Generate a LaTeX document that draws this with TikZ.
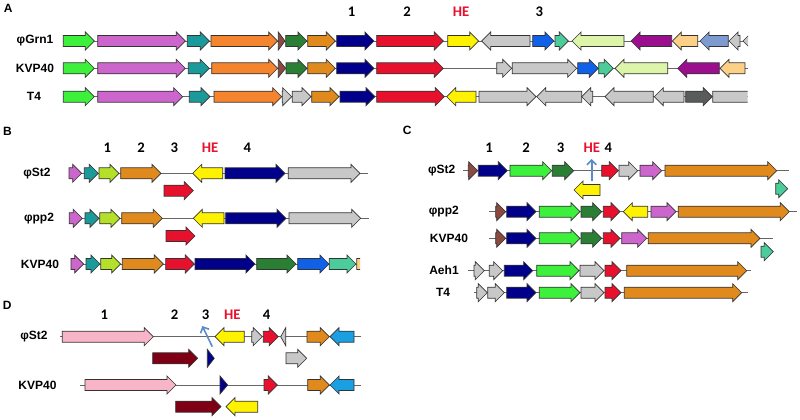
\documentclass[tikz,border=0pt]{standalone}
\usepackage{fontspec}
\setmainfont{Liberation Sans}
\newfontfamily\numfont{Carlito}
\usetikzlibrary{arrows.meta}

\definecolor{gLime}{HTML}{3CF03C}
\definecolor{gOrchid}{HTML}{CC66CC}
\definecolor{gTeal}{HTML}{1A9A9A}
\definecolor{gOrange}{HTML}{F5842E}
\definecolor{gAmber}{HTML}{E08A1E}
\definecolor{gBrown}{HTML}{8B4A40}
\definecolor{gForest}{HTML}{2A7F35}
\definecolor{gNavy}{HTML}{00008B}
\definecolor{gRed}{HTML}{E8112D}
\definecolor{gYellow}{HTML}{FFF200}
\definecolor{gGrey}{HTML}{C8C8C8}
\definecolor{gDark}{HTML}{5A5C5C}
\definecolor{gBlue}{HTML}{1060E8}
\definecolor{gAqua}{HTML}{4CCC9A}
\definecolor{gPale}{HTML}{DDF5A8}
\definecolor{gPlum}{HTML}{9B0F8F}
\definecolor{gPeach}{HTML}{FCD087}
\definecolor{gSteel}{HTML}{7E9BD0}
\definecolor{gChart}{HTML}{B5E02A}
\definecolor{gPink}{HTML}{F9B5C8}
\definecolor{gMaroon}{HTML}{7F0015}
\definecolor{gSky}{HTML}{1A9FE0}
\definecolor{gPointer}{HTML}{5B8BC8}
\definecolor{hered}{HTML}{E8112D}

\tikzset{
  gene/.style={draw=black!80,line width=0.5pt,line join=miter},
  spine/.style={draw=black!60,line width=0.6pt},
  strain/.style={font=\bfseries\fontsize{9}{11}\selectfont},
  gnum/.style={font=\numfont\bfseries\fontsize{11}{13}\selectfont},
  panel/.style={font=\bfseries\fontsize{9}{11}\selectfont},
  pointer/.style={-{Straight Barb[length=3.5pt,width=7pt]},draw=gPointer,line width=1.2pt}
}

% forward and reverse gene arrows: start, end, row, colour
\newcommand{\genefw}[4]{\pgfmathsetmacro{\hx}{max(#1,#2-9)}%
  \filldraw[gene,fill=#4] (#1,#3-5.5) -- (\hx,#3-5.5) -- (\hx,#3-9) -- (#2,#3)
    -- (\hx,#3+9) -- (\hx,#3+5.5) -- (#1,#3+5.5) -- cycle;}
\newcommand{\generv}[4]{\pgfmathsetmacro{\hx}{min(#2,#1+9)}%
  \filldraw[gene,fill=#4] (#2,#3-5.5) -- (\hx,#3-5.5) -- (\hx,#3-9) -- (#1,#3)
    -- (\hx,#3+9) -- (\hx,#3+5.5) -- (#2,#3+5.5) -- cycle;}

\begin{document}
\begin{tikzpicture}[x=0.75pt,y=-0.75pt]
  \useasboundingbox (0,0) rectangle (800,420);

  % ---- A ----
  \node[panel] (pA) at (8.3,8.7) {A};
  \node[strain] (aGrn) at (35,41) {φGrn1};
  \node[strain] (aKVP) at (35,68.3) {KVP40};
  \node[strain] (aT4) at (34,96.7) {T4};
  \node[gnum] (a1) at (351.7,12) {1};
  \node[gnum] (a2) at (407,12) {2};
  \node[gnum,text=hered] (aHE) at (461,12) {HE};
  \node[gnum] (a3) at (539.3,12) {3};

  \draw[spine] (63,41) -- (748,41);
  \foreach \s/\e/\col in {63.3/94.3/gLime,97.7/185.3/gOrchid,187.3/209.3/gTeal,211/277.7/gOrange,
      278.3/285/gBrown,285.7/307/gForest,307.7/335.3/gAmber,336.7/374/gNavy,376.7/443.3/gRed,
      447.7/478.7/gYellow,532.7/554/gBlue,555/568.3/gAqua}
    \genefw{\s}{\e}{41}{\col};
  \foreach \s/\e/\col in {481.7/530/gGrey,572/624/gPale,631/671.7/gPlum,672.3/697.7/gPeach,
      700/728.3/gSteel,729/740/gGrey}
    \generv{\s}{\e}{41}{\col};
  \begin{scope}
    \clip (740,30) rectangle (748,52);
    \generv{743}{752}{41}{gGrey};
  \end{scope}

  \draw[spine] (63,68.3) -- (748,68.3);
  \foreach \s/\e/\col in {63.3/94.3/gLime,97.7/185.3/gOrchid,188.3/209.3/gTeal,211.7/277.7/gOrange,
      278.3/285.7/gBrown,286/307/gForest,307.7/335.3/gAmber,336.7/374/gNavy,376.7/443.3/gRed,
      496.7/511.7/gGrey,512.3/576.7/gGrey,577.7/598.3/gBlue,598.7/613.3/gAqua}
    \genefw{\s}{\e}{68.3}{\col};
  \foreach \s/\e/\col in {615/667.7/gPale,677.7/719.3/gPlum,720/745/gPeach}
    \generv{\s}{\e}{68.3}{\col};

  \draw[spine] (63,96.7) -- (747.7,96.7);
  \foreach \s/\e/\col in {63.3/94.3/gLime,97.7/182.7/gOrchid,189.3/210/gTeal,214/281.7/gOrange,
      282.3/291.7/gGrey,292.3/311/gGrey,311.7/339/gAmber,340/375/gNavy,376.7/444.3/gRed,
      479/536/gGrey,685.7/712.3/gDark}
    \genefw{\s}{\e}{96.7}{\col};
  \foreach \s/\e/\col in {446.7/476/gYellow,536.7/581.7/gGrey,581.7/592.7/gGrey,605/653.3/gGrey,
      654.3/684/gGrey}
    \generv{\s}{\e}{96.7}{\col};
  \begin{scope}
    \clip (710,85) rectangle (747.7,108);
    \genefw{712.7}{770}{96.7}{gGrey};
  \end{scope}

  % ---- B ----
  \node[panel] (pB) at (7.5,131.7) {B};
  \foreach \t/\x/\n in {1/107.3/b1,2/141/b2,3/174.3/b3,4/247.3/b4}
    \node[gnum] (\n) at (\x,147.7) {\t};
  \node[gnum,text=hered] (bHE) at (210,147.7) {HE};
  \node[strain] (bSt2) at (37,173.3) {φSt2};
  \node[strain] (bpp2) at (39,218.3) {φpp2};
  \node[strain] (bKVP) at (40,264) {KVP40};

  \draw[spine] (69,173.3) -- (368.3,173.3);
  \foreach \s/\e/\col in {69/81.7/gOrchid,84.3/98.3/gTeal,99/119/gChart,120.7/161/gAmber,
      225/285/gNavy,288.3/360/gGrey}
    \genefw{\s}{\e}{173.3}{\col};
  \generv{192.7}{222.7}{173.3}{gYellow};
  \genefw{164}{193.3}{190.7}{gRed};

  \draw[spine] (69,218.3) -- (369.3,218.3);
  \foreach \s/\e/\col in {69.3/82.3/gOrchid,85/99/gTeal,99.7/120/gChart,121.7/162.3/gAmber,
      225.7/286/gNavy,289/360.7/gGrey}
    \genefw{\s}{\e}{218.3}{\col};
  \generv{193.3}{224}{218.3}{gYellow};
  \genefw{166}{195}{236}{gRed};

  \draw[spine] (71,264) -- (360,264);
  \foreach \s/\e/\col in {71/83.7/gOrchid,86/100/gTeal,100.7/120.7/gChart,122.3/163.3/gAmber,
      165.7/194.3/gRed,195/255/gNavy,256.7/296/gForest,297.7/329/gBlue,329.3/356/gAqua}
    \genefw{\s}{\e}{264}{\col};
  \begin{scope}
    \clip (356,250) rectangle (360,278);
    \genefw{356.7}{380}{264}{gPeach};
  \end{scope}

  % ---- C ----
  \node[panel] (pC) at (407.3,130) {C};
  \foreach \t/\x/\n in {1/489/c1,2/526/c2,3/560.7/c3,4/608.3/c4}
    \node[gnum] (\n) at (\x,147.7) {\t};
  \node[gnum,text=hered] (cHE) at (591.7,147.7) {HE};
  \node[strain] (cSt2) at (441.7,170.7) {φSt2};
  \node[strain] (cpp2) at (443.8,211.7) {φpp2};
  \node[strain] (cKVP) at (449,238.3) {KVP40};
  \node[strain] (cAeh) at (444,270.7) {Aeh1};
  \node[strain] (cT4) at (443,292.7) {T4};

  \draw[spine] (463.3,170.7) -- (789,170.7);
  \foreach \s/\e/\col in {468.3/477.7/gBrown,478.3/507.3/gNavy,510/551.7/gLime,552.3/573.7/gForest,
      601.7/618.3/gRed,619/637.7/gGrey,640/661.7/gOrchid,665/776.7/gAmber}
    \genefw{\s}{\e}{170.7}{\col};
  \generv{574}{600}{190}{gYellow};
  \genefw{775.7}{787.7}{188.7}{gAqua};
  \coordinate (cHEfoot) at (591.7,180.7);
  \coordinate (cHEtip) at (591.7,159);
  \draw[pointer] (cHEfoot) -- (cHEtip);

  \draw[spine] (489.3,211.7) -- (796.7,211.7);
  \foreach \s/\e/\col in {495.7/505.7/gBrown,506.7/536/gNavy,539.3/580/gLime,581/601.7/gForest,
      603.3/620/gRed,651/676/gOrchid,678.3/789.3/gAmber}
    \genefw{\s}{\e}{211.7}{\col};
  \generv{623.3}{647.7}{211.7}{gYellow};

  \draw[spine] (489,238.3) -- (773.3,238.3);
  \foreach \s/\e/\col in {495.7/505.7/gBrown,506.7/536/gNavy,539.3/580/gLime,581/601.7/gForest,
      603.3/620/gRed,621.7/646.7/gOrchid,648.3/760/gAmber}
    \genefw{\s}{\e}{238.3}{\col};
  \genefw{761}{773.3}{251.7}{gAqua};

  \draw[spine] (468.3,270.7) -- (751,270.7);
  \foreach \s/\e/\col in {474/484.3/gGrey,489.3/502.7/gGrey,504.3/532.7/gNavy,536.7/579/gLime,
      580/604/gGrey,605/621/gRed,626.7/746.7/gAmber}
    \genefw{\s}{\e}{270.7}{\col};

  \draw[spine] (474,292.7) -- (748.3,292.7);
  \foreach \s/\e/\col in {476.7/487.3/gGrey,487.7/504.3/gGrey,506.7/536/gNavy,539.3/580/gLime,
      581/604/gGrey,605/621/gRed,624.3/741.7/gAmber}
    \genefw{\s}{\e}{292.7}{\col};

  % ---- D ----
  \node[panel] (pD) at (7.3,305) {D};
  \foreach \t/\x/\n in {1/104.3/d1,2/174.7/d2,3/205.7/d3,4/266.7/d4}
    \node[gnum] (\n) at (\x,315) {\t};
  \node[gnum,text=hered] (dHE) at (232.3,315) {HE};
  \node[strain] (dSt2) at (34,336.7) {φSt2};
  \node[strain] (dKVP) at (37.5,385) {KVP40};

  \draw[spine] (60,336.7) -- (361,336.7);
  \foreach \s/\e/\col in {62.3/153.3/gPink,251.7/262.3/gGrey,263.3/278.3/gRed,307/329.3/gAmber}
    \genefw{\s}{\e}{336.7}{\col};
  \foreach \s/\e/\col in {215/244.3/gYellow,280.7/285.7/gGrey,330/354/gSky}
    \generv{\s}{\e}{336.7}{\col};
  \foreach \s/\e/\col in {152.7/197.7/gMaroon,207.3/214.3/gNavy,286/306.7/gGrey}
    \genefw{\s}{\e}{358.3}{\col};
  \coordinate (dHEfoot) at (212.3,346.7);
  \coordinate (dHEtip) at (202.3,326);
  \draw[pointer] (dHEfoot) -- (dHEtip);

  \draw[spine] (80,385) -- (361,385);
  \foreach \s/\e/\col in {85/176/gPink,220/227.7/gNavy,264/277.3/gRed,307.7/329.3/gAmber}
    \genefw{\s}{\e}{385}{\col};
  \generv{330}{354}{385}{gSky};
  \genefw{175.7}{221}{406.7}{gMaroon};
  \generv{226}{257.7}{406.7}{gYellow};
\end{tikzpicture}
\end{document}
